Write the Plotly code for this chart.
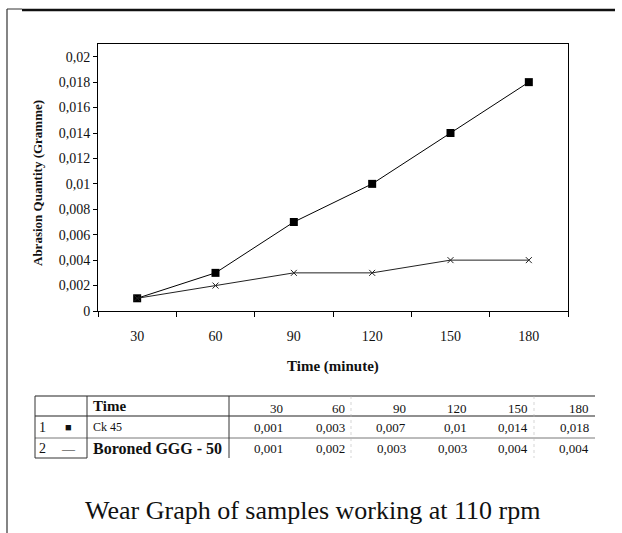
import plotly.graph_objects as go

# ---- data ----
times = ["30", "60", "90", "120", "150", "180"]
ck45 = [0.001, 0.003, 0.007, 0.01, 0.014, 0.018]
boroned = [0.001, 0.002, 0.003, 0.003, 0.004, 0.004]
series_names = ["Ck 45", "Boroned GGG - 50"]
y_tickvals = [0, 0.002, 0.004, 0.006, 0.008, 0.01, 0.012, 0.014, 0.016, 0.018, 0.02]
y_ticktext = ["0", "0,002", "0,004", "0,006", "0,008", "0,01", "0,012", "0,014", "0,016", "0,018", "0,02"]
caption = "Wear Graph of samples working at 110 rpm"

W, H = 622, 533
L, R, T, B = 98, 568, 44, 311
FONT = "Liberation Serif"


def X(px):
    return (px - L) / (R - L)


def Y(py):
    return (B - py) / (B - T)


def fmt(v):
    return ("%g" % v).replace(".", ",")


fig = go.Figure()
fig.add_trace(go.Scatter(
    x=times, y=ck45, name=series_names[0], mode="lines+markers",
    line=dict(color="black", width=1),
    marker=dict(symbol="square", size=8, color="black")))
fig.add_trace(go.Scatter(
    x=times, y=boroned, name=series_names[1], mode="lines+markers",
    line=dict(color="#222", width=1),
    marker=dict(symbol="x-thin", size=6, color="#222", line=dict(width=1, color="#222"))))

fig.update_layout(
    width=W, height=H, showlegend=False,
    margin=dict(l=L, r=W - R, t=T, b=H - B),
    paper_bgcolor="white", plot_bgcolor="white",
    font=dict(family=FONT, color="#111", size=12),
)
fig.update_xaxes(
    type="category", range=[-0.5, 5.5], tickson="boundaries",
    ticks="outside", ticklen=5, tickcolor="black", showline=True, linecolor="black",
    linewidth=1, mirror=True, showgrid=False, ticklabelstandoff=12,
    tickfont=dict(family=FONT, size=14, color="#111"))
fig.update_yaxes(
    range=[0, 0.0210], tickvals=y_tickvals, ticktext=y_ticktext,
    ticks="outside", ticklen=4, tickcolor="black", showline=True, linecolor="black",
    linewidth=1, mirror=True, showgrid=False, zeroline=False,
    tickfont=dict(family=FONT, size=14, color="#111"))

ann = []


def text(px, py, s, size=12, xanchor="center", angle=0):
    ann.append(dict(x=X(px), y=Y(py), xref="paper", yref="paper", text=s,
                    xanchor=xanchor, yanchor="middle", textangle=angle, showarrow=False,
                    font=dict(family=FONT, size=size, color="#111")))


# axis titles
text(333, 366, "<b>Time (minute)</b>", 15)
text(38, 183, "<b>Abrasion Quantity (Gramme)</b>", 13, angle=-90)

# table
col_right = [285, 347, 408, 469, 530, 591]
row_y = [406, 427, 448]
text(91, row_y[0], "<b>Time</b>", 15, "left")
for i, t in enumerate(times):
    text(col_right[i], row_y[0] + 2, t, 13, "right")
series_vals = [ck45, boroned]
symbols = ["■", "—"]
for r, (nm, vals) in enumerate(zip(series_names, series_vals)):
    yy = row_y[r + 1]
    text(42, yy, str(r + 1), 14)
    text(68, yy, symbols[r], 11 if r == 0 else 13)
    label = nm if r == 0 else "<b>" + nm + "</b>"
    text(91, yy, label, 12 if r == 0 else 16, "left")
    for i, v in enumerate(vals):
        text(col_right[i], yy, fmt(v), 13, "right")

# caption
text(312, 510, caption, 26)
fig.update_layout(annotations=ann)

shapes = []


def line(x0, y0, x1, y1, w=1, c="black", dash="solid"):
    shapes.append(dict(type="line", xref="paper", yref="paper", x0=X(x0), y0=Y(y0), x1=X(x1), y1=Y(y1),
                       line=dict(color=c, width=w, dash=dash)))


# page frame
line(7, 9, 22, 9, 1, "#333")
line(22, 10, 615, 10, 2.5, "#111")
line(7, 9, 7, 533, 1.2, "#333")
# table lines
line(35, 396, 595, 396, 1.2, "#222")
line(35, 416, 595, 416, 1.2, "#222")
line(35, 438, 595, 438, 0.8, "#555")
line(35, 458, 87, 458, 1, "#333")
line(35, 396, 35, 458, 1, "#333")
line(87, 396, 87, 458, 1, "#333")
line(229, 396, 229, 458, 1, "#333")
for xb in [351, 534]:
    line(xb, 396, xb, 458, 0.6, "#bbb", "dot")
fig.update_layout(shapes=shapes)

fig.write_html("out.html")
